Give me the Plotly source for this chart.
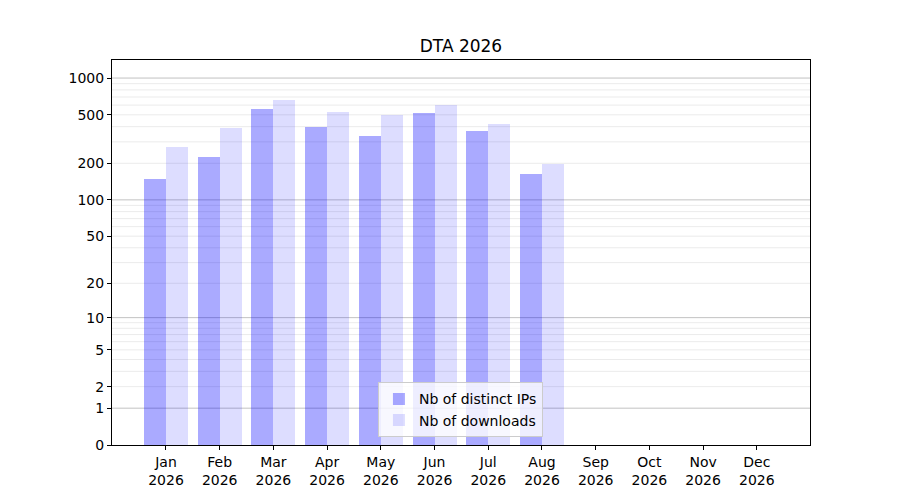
import numpy as np
import plotly.graph_objects as go

months = ["Jan", "Feb", "Mar", "Apr", "May", "Jun", "Jul", "Aug", "Sep", "Oct", "Nov", "Dec"]
year = "2026"
distinct_ips = [149, 225, 558, 397, 335, 517, 368, 163]
downloads = [272, 390, 661, 527, 498, 602, 420, 198]

ytick_vals = [0, 1, 2, 5, 10, 20, 50, 100, 200, 500, 1000]
major_grid = [1, 10, 100, 1000]
minor_grid = [m * d for d in [1, 10, 100] for m in range(2, 10)]


def fwd(v):
    # axis scale is log10(1 + x)
    return np.log10(1 + np.asarray(v, dtype=float))


x_ip = list(range(len(distinct_ips)))
x_dl = list(range(len(downloads)))

fig = go.Figure()
fig.add_trace(go.Bar(x=x_ip, y=fwd(distinct_ips), width=0.41, offset=-0.41,
                     marker=dict(color="rgba(0,0,255,0.333)", line_width=0),
                     name="Nb of distinct IPs"))
fig.add_trace(go.Bar(x=x_dl, y=fwd(downloads), width=0.41, offset=0,
                     marker=dict(color="rgba(0,0,255,0.133)", line_width=0),
                     name="Nb of downloads"))

for v in minor_grid:
    fig.add_shape(type="line", xref="paper", yref="y", x0=0, x1=1, y0=fwd(v), y1=fwd(v),
                  line=dict(color="rgba(128,128,128,0.16)", width=1), layer="below")
for v in major_grid:
    fig.add_shape(type="line", xref="paper", yref="y", x0=0, x1=1, y0=fwd(v), y1=fwd(v),
                  line=dict(color="rgba(128,128,128,0.48)", width=1), layer="below")

font = "DejaVu Sans"
# page puts the figure 8px in from the top-left, margins compensate for that
fig.update_layout(
    width=900, height=500,
    margin=dict(l=104, r=98, t=52, b=63),
    paper_bgcolor="white", plot_bgcolor="white",
    font=dict(family=font, size=14, color="black"),
    title=dict(text="DTA 2026", x=0.5033, xanchor="center", y=0.924, yanchor="middle",
               font=dict(family=font, size=17, color="black")),
    showlegend=True,
    legend=dict(x=0.381, y=0.02, xanchor="left", yanchor="bottom",
                bgcolor="rgba(255,255,255,0.8)", bordercolor="#cccccc", borderwidth=1,
                font=dict(family=font, size=14), tracegroupgap=0,
                itemsizing="constant"),
    bargap=0,
)
fig.update_xaxes(range=[-1.005, 11.99], tickmode="array",
                 tickvals=list(range(len(months))),
                 ticktext=[f"{m}<br>{year}" for m in months],
                 showgrid=False, zeroline=False, showline=True, linecolor="black",
                 linewidth=1, mirror=True, ticks="outside", ticklen=4, tickcolor="black")
fig.update_yaxes(range=[0, 3.148], tickmode="array",
                 tickvals=list(fwd(ytick_vals)), ticktext=[str(v) for v in ytick_vals],
                 showgrid=False, zeroline=False, showline=True, linecolor="black",
                 linewidth=1, mirror=True, ticks="outside", ticklen=4, tickcolor="black")

fig.write_html("out.html")
